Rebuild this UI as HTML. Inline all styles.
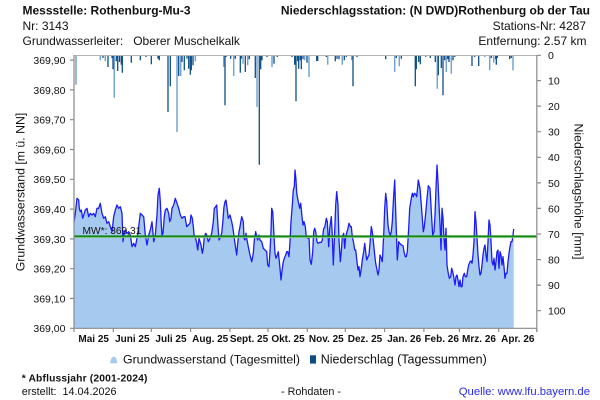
<!DOCTYPE html>
<html><head><meta charset="utf-8"><style>
html,body{margin:0;padding:0;background:#fff;}
svg{display:block;}
text{font-family:"Liberation Sans",Arial,sans-serif;fill:#111;}
</style></head><body>
<svg width="600" height="400" viewBox="0 0 600 400" xmlns="http://www.w3.org/2000/svg">
<rect width="600" height="400" fill="#fff"/>
<!-- header -->
<text x="22.5" y="14.5" font-size="12" font-weight="bold">Messstelle: Rothenburg-Mu-3</text>
<text x="22.5" y="30" font-size="12">Nr: 3143</text>
<text x="22.5" y="45" font-size="12" xml:space="preserve">Grundwasserleiter:   Oberer Muschelkalk</text>
<text x="590" y="14.5" font-size="12" font-weight="bold" text-anchor="end">Niederschlagsstation: (N DWD)Rothenburg ob der Tau</text>
<text x="586" y="30" font-size="12" text-anchor="end">Stations-Nr: 4287</text>
<text x="586.5" y="45" font-size="12" text-anchor="end">Entfernung: 2.57 km</text>

<!-- area fill -->
<path fill="#a6c9ef" d="M74,328 L74,222 75.3,213.3 77,198.3 78.7,200 79.3,208.3 80.3,211.7 81.3,210 82.7,218.3 84.3,213.3 85.3,210 87,208.3 88.7,216.7 90.3,213.3 92,215 93.7,213.3 95.3,216.7 97,208.3 98.7,208.3 100.3,203.3 102,213.3 103.7,218.3 105.3,216.7 107,223.3 108.7,221.7 110.3,226.7 112,231.7 113.7,216.7 115.3,210 117,205 118.7,208.3 120.3,206.7 122,213.3 123,241.7 124.3,231.7 125.3,230 127,233.3 128.7,231.7 130.3,235 132,246.7 133.7,243.3 135.3,246.7 137,238.3 138.7,226.7 140.3,213.3 142,215 143.7,216.7 145.3,235 147,245 148.7,235 150.3,230 152,221.7 153.7,241.7 155.3,235 157,215 158,195 159.3,188.3 160.3,201.7 161.3,225 162,235 163,233.3 164.3,216.7 165.3,210 167,208.3 168.7,213.3 169.7,221.7 171,218.3 172,208.3 173.7,205 175.3,198.3 177,203.3 178.7,208.3 180.3,215 182,218.3 183.7,216.7 185,216.7 186.7,226.7 188.3,225 190,223.3 191,215 192.3,218.3 193.3,226.7 194.3,236.7 195.7,238.3 196.7,243.3 197.7,250 199,238.3 200,241.7 201,245 202.3,253.3 203.3,248.3 204.3,236.7 205.7,233.3 206.7,235 208.3,241.7 210,238.3 211.7,233.3 213.3,221.7 214.3,208.3 215.7,206.7 216.7,205 217.7,221.7 219,240 220,238.3 221.7,233.3 222.7,223.3 224,206.7 225,201.7 226,200 227.3,210 228.3,218.3 230,215 231.7,221.7 232.7,226.7 234.3,238.3 235.7,248.3 236.7,255 237.7,243.3 239,231.7 240,226.7 241.7,216.7 243.3,221.7 244,238.3 245,240 246,233.3 246.7,238.3 248.3,246.7 250,255 251.7,261.7 253.3,253.3 254.3,240 255.7,231.7 256.7,236.7 257.7,240 259,235 260,240 261.7,241.7 263.3,248.3 265,250 266.7,251.7 267.7,265 269,266.7 270,251.7 271,231.7 271.7,208.3 272.7,211.7 273.3,221.7 274.3,241.7 275,253.3 276,258.3 277.3,255 278.3,251.7 280,268.3 281,280 282.3,268.3 283.3,261.7 284.3,258.3 285.7,255 286.7,251.7 287.7,251.7 289,256.7 290,241.7 291,221.7 292.3,205 293.3,190 294.3,186.7 295,170 296,180 296.7,193.3 298.3,201.7 299.7,208.3 300.7,203.3 302,216.7 303,225 304,221.7 305.3,226.7 306.3,236.7 308,238.3 309,236.7 310,260 311.3,264.3 312.7,251.7 313.7,231.7 314.7,228.3 315.7,231.7 317,241.7 318,243.3 319.7,242.3 321.3,242.3 322.3,240 323.7,228.3 324.7,227.7 326.3,218.3 327.3,221.7 328.7,246.7 329.7,228.3 331.3,216.7 332.3,235 333.3,265 334.7,231.7 335.7,205 336.7,191.7 338,205 339,240 340.3,261.7 341.3,251.7 342.3,236.7 343.7,233.3 344.7,248.3 345.7,236.7 347,231.7 348,228.3 349,223.3 350.3,226.7 351.3,226.7 352.3,236.7 353.7,243.3 354.7,250 355.7,250 357,261.7 358,270 359,266.7 360,276.7 361.3,268.3 362.3,260 363.7,251.7 364.7,243.3 365.7,251.7 366.7,260 368,256.7 369,255 370,243.3 371.3,226.7 372.3,231.7 373.7,245 374.7,255 375.7,263.3 377,270 378,275 379,270 380,255 381.3,258.3 382.3,261.7 383.7,235 384.7,208.3 385.7,193.3 386.7,201.7 388,225 389,231.7 390.3,235 391.3,231.7 392.3,221.7 393.7,195 394.7,180 395.7,211.7 396.7,241.7 397.3,260 398.7,241.7 399.7,243.3 401.3,245 403,245.7 404,251.7 405.3,256.7 406.3,256.7 407.3,251.7 408.7,228.3 409.7,208.3 411.3,198.3 412.3,193.3 413.3,196.7 414.3,193.3 415.7,194.3 416.7,196.7 418.3,180 420,188.3 421.7,210 423.3,231.7 424.3,226.7 425.7,213.3 426.7,201.7 428.3,185.7 430,188.3 431.7,218.3 432.7,235 434,231.7 435,215 436,188.3 437,165 438,181.7 439,205 440,223.3 441,250 442,208.3 443,218.3 444,238.3 445,250 446,228.3 447,265 448,271.7 449.3,278.3 450.7,276.7 451.7,268.3 452.7,271.7 453.7,276.7 455,285 456,276.7 457,275 458,280 459,286.7 460,280 461,286.7 462,286.7 463,276.7 464.3,273.3 465.3,276.7 466.7,276.7 467.7,270 468.7,265 470,261.7 471,261 472,263.3 473,255 474,241.7 475,211.7 476,221.7 477,238.3 478,255 479,266.7 480,275 481,273.3 482,265 483,255 484,248.3 485,245 486,255 487,261.7 488,241.7 489,220 490,225 491,241.7 492,261.7 493,265 494,258.3 495,270 496,261.7 497,251.7 498,250 499,268.3 500,251.7 501,255 502,265 503,256.7 504,266.7 505,278.3 506,273.3 507,273.3 508,261.7 509,253.3 510,246.7 511,241.7 512,241.7 513,235 513.7,229 L513.7,328 Z"/>

<!-- precipitation bars -->
<path fill="none" stroke="#76a3cf" stroke-width="1.5" d="M76 55.5V84.7M100.3 55.5V60.3M105.3 55.5V61.3M114.3 55.5V97.7M177 55.5V132M180.7 55.5V76M195.3 55.5V61.3M223.7 55.5V67M233.7 55.5V76M243 55.5V63.7M247.7 55.5V65.3M257 55.5V107M272 55.5V67M304.7 55.5V60.3M309 55.5V77M327.7 55.5V64.7M342.3 55.5V64.7M351.7 55.5V60.3M394.7 55.5V72M399.3 55.5V66.3M437.3 55.5V88.7M446.3 55.5V72M451.3 55.5V73.7M484.7 55.5V57M489.7 55.5V70.3M493.7 55.5V62.7M513 55.5V70.3"/>
<path fill="none" stroke="#0d4d86" stroke-width="1.3" d="M103 55.5V58M108 55.5V67M112 55.5V58M113 55.5V69.3M116.3 55.5V61.3M117.7 55.5V71M119.5 55.5V62M121.3 55.5V64.7M122.3 55.5V72.7M131.3 55.5V62.7M140.3 55.5V60.3M146 55.5V57M151.3 55.5V64.3M158 55.5V58.7M159.3 55.5V60.3M168 55.5V112M170.3 55.5V86.3M178.7 55.5V76M182 55.5V62M184.3 55.5V70.3M187 55.5V58.7M188.7 55.5V68.7M190.3 55.5V74.7M191.3 55.5V70.3M193 55.5V65.3M225 55.5V105.3M226 55.5V57M230.7 55.5V58.7M235.3 55.5V58.7M240.3 55.5V72.7M241.3 55.5V58.7M245.3 55.5V72M249.3 55.5V59.3M255.3 55.5V78M259.3 55.5V164.7M260.7 55.5V69.3M262 55.5V60.3M267 55.5V57M274 55.5V63.7M277.3 55.5V57M292 55.5V57M294.7 55.5V64.7M296 55.5V101.3M297.7 55.5V61.3M298.7 55.5V68.7M300.3 55.5V60.3M301.3 55.5V69.3M303 55.5V59.3M307 55.5V62.7M316.7 55.5V61M317.7 55.5V61M326.3 55.5V57M335.3 55.5V61.3M337 55.5V58.7M339 55.5V59.3M344.3 55.5V60.3M346.3 55.5V57M353 55.5V86.3M357 55.5V57M385.7 55.5V59.3M396.3 55.5V58M401.3 55.5V58.7M403.7 55.5V56M415.3 55.5V86.3M416.3 55.5V69.3M418.7 55.5V62M420.3 55.5V64.3M425.7 55.5V56.7M430.3 55.5V58M435.3 55.5V62M438.3 55.5V75.3M441.3 55.5V68M443 55.5V95.3M444.7 55.5V60.3M447.7 55.5V59.3M449 55.5V62M453 55.5V60.3M454.7 55.5V57M472 55.5V66M474.7 55.5V57M478.7 55.5V66M491.3 55.5V58M495.7 55.5V59.3M496.3 55.5V64.7M497.3 55.5V58M509.7 55.5V59.3M511.3 55.5V58"/>

<!-- groundwater line -->
<polyline fill="none" stroke="#1c1cf5" stroke-width="1.3" stroke-linejoin="round" points="74,222 75.3,213.3 77,198.3 78.7,200 79.3,208.3 80.3,211.7 81.3,210 82.7,218.3 84.3,213.3 85.3,210 87,208.3 88.7,216.7 90.3,213.3 92,215 93.7,213.3 95.3,216.7 97,208.3 98.7,208.3 100.3,203.3 102,213.3 103.7,218.3 105.3,216.7 107,223.3 108.7,221.7 110.3,226.7 112,231.7 113.7,216.7 115.3,210 117,205 118.7,208.3 120.3,206.7 122,213.3 123,241.7 124.3,231.7 125.3,230 127,233.3 128.7,231.7 130.3,235 132,246.7 133.7,243.3 135.3,246.7 137,238.3 138.7,226.7 140.3,213.3 142,215 143.7,216.7 145.3,235 147,245 148.7,235 150.3,230 152,221.7 153.7,241.7 155.3,235 157,215 158,195 159.3,188.3 160.3,201.7 161.3,225 162,235 163,233.3 164.3,216.7 165.3,210 167,208.3 168.7,213.3 169.7,221.7 171,218.3 172,208.3 173.7,205 175.3,198.3 177,203.3 178.7,208.3 180.3,215 182,218.3 183.7,216.7 185,216.7 186.7,226.7 188.3,225 190,223.3 191,215 192.3,218.3 193.3,226.7 194.3,236.7 195.7,238.3 196.7,243.3 197.7,250 199,238.3 200,241.7 201,245 202.3,253.3 203.3,248.3 204.3,236.7 205.7,233.3 206.7,235 208.3,241.7 210,238.3 211.7,233.3 213.3,221.7 214.3,208.3 215.7,206.7 216.7,205 217.7,221.7 219,240 220,238.3 221.7,233.3 222.7,223.3 224,206.7 225,201.7 226,200 227.3,210 228.3,218.3 230,215 231.7,221.7 232.7,226.7 234.3,238.3 235.7,248.3 236.7,255 237.7,243.3 239,231.7 240,226.7 241.7,216.7 243.3,221.7 244,238.3 245,240 246,233.3 246.7,238.3 248.3,246.7 250,255 251.7,261.7 253.3,253.3 254.3,240 255.7,231.7 256.7,236.7 257.7,240 259,235 260,240 261.7,241.7 263.3,248.3 265,250 266.7,251.7 267.7,265 269,266.7 270,251.7 271,231.7 271.7,208.3 272.7,211.7 273.3,221.7 274.3,241.7 275,253.3 276,258.3 277.3,255 278.3,251.7 280,268.3 281,280 282.3,268.3 283.3,261.7 284.3,258.3 285.7,255 286.7,251.7 287.7,251.7 289,256.7 290,241.7 291,221.7 292.3,205 293.3,190 294.3,186.7 295,170 296,180 296.7,193.3 298.3,201.7 299.7,208.3 300.7,203.3 302,216.7 303,225 304,221.7 305.3,226.7 306.3,236.7 308,238.3 309,236.7 310,260 311.3,264.3 312.7,251.7 313.7,231.7 314.7,228.3 315.7,231.7 317,241.7 318,243.3 319.7,242.3 321.3,242.3 322.3,240 323.7,228.3 324.7,227.7 326.3,218.3 327.3,221.7 328.7,246.7 329.7,228.3 331.3,216.7 332.3,235 333.3,265 334.7,231.7 335.7,205 336.7,191.7 338,205 339,240 340.3,261.7 341.3,251.7 342.3,236.7 343.7,233.3 344.7,248.3 345.7,236.7 347,231.7 348,228.3 349,223.3 350.3,226.7 351.3,226.7 352.3,236.7 353.7,243.3 354.7,250 355.7,250 357,261.7 358,270 359,266.7 360,276.7 361.3,268.3 362.3,260 363.7,251.7 364.7,243.3 365.7,251.7 366.7,260 368,256.7 369,255 370,243.3 371.3,226.7 372.3,231.7 373.7,245 374.7,255 375.7,263.3 377,270 378,275 379,270 380,255 381.3,258.3 382.3,261.7 383.7,235 384.7,208.3 385.7,193.3 386.7,201.7 388,225 389,231.7 390.3,235 391.3,231.7 392.3,221.7 393.7,195 394.7,180 395.7,211.7 396.7,241.7 397.3,260 398.7,241.7 399.7,243.3 401.3,245 403,245.7 404,251.7 405.3,256.7 406.3,256.7 407.3,251.7 408.7,228.3 409.7,208.3 411.3,198.3 412.3,193.3 413.3,196.7 414.3,193.3 415.7,194.3 416.7,196.7 418.3,180 420,188.3 421.7,210 423.3,231.7 424.3,226.7 425.7,213.3 426.7,201.7 428.3,185.7 430,188.3 431.7,218.3 432.7,235 434,231.7 435,215 436,188.3 437,165 438,181.7 439,205 440,223.3 441,250 442,208.3 443,218.3 444,238.3 445,250 446,228.3 447,265 448,271.7 449.3,278.3 450.7,276.7 451.7,268.3 452.7,271.7 453.7,276.7 455,285 456,276.7 457,275 458,280 459,286.7 460,280 461,286.7 462,286.7 463,276.7 464.3,273.3 465.3,276.7 466.7,276.7 467.7,270 468.7,265 470,261.7 471,261 472,263.3 473,255 474,241.7 475,211.7 476,221.7 477,238.3 478,255 479,266.7 480,275 481,273.3 482,265 483,255 484,248.3 485,245 486,255 487,261.7 488,241.7 489,220 490,225 491,241.7 492,261.7 493,265 494,258.3 495,270 496,261.7 497,251.7 498,250 499,268.3 500,251.7 501,255 502,265 503,256.7 504,266.7 505,278.3 506,273.3 507,273.3 508,261.7 509,253.3 510,246.7 511,241.7 512,241.7 513,235 513.7,229"/>

<!-- mean line -->
<line x1="74" y1="237.6" x2="537" y2="237.6" stroke="#9fd49f" stroke-width="1"/>
<line x1="74" y1="236.3" x2="537" y2="236.3" stroke="#118811" stroke-width="1.8"/>
<text x="82.5" y="234" font-size="10.2" fill="#111">MW*: 369,31</text>

<!-- frame / axes -->
<line x1="74" y1="55.5" x2="537" y2="55.5" stroke="#b5b5b5" stroke-width="1"/>
<g stroke="#8a8a8a" stroke-width="1.2" fill="none">
<line x1="74" y1="55" x2="74" y2="328.5"/>
<line x1="74" y1="328.3" x2="537" y2="328.3"/>
<line x1="536.8" y1="55" x2="536.8" y2="332"/>
<path d="M70 60.1H74M70 89.9H74M70 119.7H74M70 149.5H74M70 179.3H74M70 209.1H74M70 238.9H74M70 268.7H74M70 298.5H74M70 328.3H74"/>
<path d="M537 55.3H541M537 80.6H541M537 106.1H541M537 131.7H541M537 157.3H541M537 182.9H541M537 208.4H541M537 234H541M537 259.6H541M537 285.1H541M537 310.7H541"/>
<path d="M74 328V332M113.3 328V332M151.3 328V332M190.6 328V332M229.9 328V332M268 328V332M307.3 328V332M345.3 328V332M384.6 328V332M423.9 328V332M459.4 328V332M498.7 328V332M536.8 328V332"/>
</g>

<!-- left tick labels -->
<g font-size="10.5" text-anchor="end" fill="#222">
<text x="65.5" y="64">369,90</text>
<text x="65.5" y="93.8">369,80</text>
<text x="65.5" y="123.6">369,70</text>
<text x="65.5" y="153.4">369,60</text>
<text x="65.5" y="183.2">369,50</text>
<text x="65.5" y="213">369,40</text>
<text x="65.5" y="242.8">369,30</text>
<text x="65.5" y="272.6">369,20</text>
<text x="65.5" y="302.4">369,10</text>
<text x="65.5" y="332.2">369,00</text>
</g>
<!-- right tick labels -->
<g font-size="10.5" fill="#222">
<text x="548" y="59.2">0</text>
<text x="548" y="84.5">10</text>
<text x="548" y="110">20</text>
<text x="548" y="135.6">30</text>
<text x="548" y="161.2">40</text>
<text x="548" y="186.8">50</text>
<text x="548" y="212.3">60</text>
<text x="548" y="237.9">70</text>
<text x="548" y="263.5">80</text>
<text x="548" y="289">90</text>
<text x="548" y="314.6">100</text>
</g>
<!-- axis titles -->
<text transform="translate(24.5,192) rotate(-90)" font-size="12.3" text-anchor="middle">Grundwasserstand [m ü. NN]</text>
<text transform="translate(574.5,191.5) rotate(90)" font-size="12.3" text-anchor="middle">Niederschlagshöhe [mm]</text>

<!-- x labels -->
<g font-size="10" font-weight="bold" text-anchor="middle" fill="#222">
<text x="93.7" y="342">Mai 25</text>
<text x="132.3" y="342">Juni 25</text>
<text x="171" y="342">Juli 25</text>
<text x="210.2" y="342">Aug. 25</text>
<text x="249" y="342">Sept. 25</text>
<text x="288" y="342">Okt. 25</text>
<text x="326.3" y="342">Nov. 25</text>
<text x="365" y="342">Dez. 25</text>
<text x="404.2" y="342">Jan. 26</text>
<text x="441.7" y="342">Feb. 26</text>
<text x="479" y="342">Mrz. 26</text>
<text x="517.8" y="342">Apr. 26</text>
</g>

<!-- legend -->
<path d="M110,363.3 L111.2,358.5 Q113.8,354.8 116.3,358.5 L117.5,363.3 Z" fill="#a6c9ef"/>
<text x="123" y="363.3" font-size="12.3">Grundwasserstand (Tagesmittel)</text>
<rect x="310" y="355.3" width="6" height="8.3" fill="#0d4d86"/>
<text x="320.7" y="363.3" font-size="12.5">Niederschlag (Tagessummen)</text>

<!-- footer -->
<text x="21.7" y="381.5" font-size="10.3" font-weight="bold" letter-spacing="0.15">* Abflussjahr (2001-2024)</text>
<text x="21.7" y="395" font-size="10.8" xml:space="preserve">erstellt:  14.04.2026</text>
<text x="311" y="395" font-size="10.8" text-anchor="middle">- Rohdaten -</text>
<text x="590" y="395" font-size="11.3" text-anchor="end" fill="#2a2aee" style="fill:#2a2aee">Quelle: www.lfu.bayern.de</text>
</svg>
</body></html>
